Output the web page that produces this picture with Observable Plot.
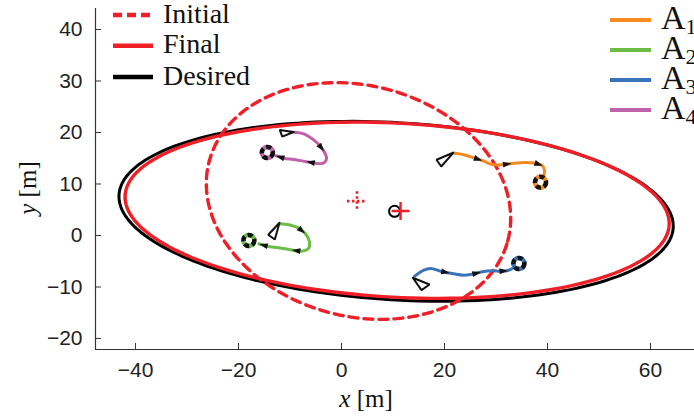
<!DOCTYPE html>
<html><head><meta charset="utf-8">
<script src="https://cdn.jsdelivr.net/npm/d3@7"></script>
<script src="https://cdn.jsdelivr.net/npm/@observablehq/plot@0.6"></script>
<style>
body{margin:0;background:#fff;}
#chart{position:relative;width:694px;height:416px;overflow:hidden;}
</style></head><body><div id="chart"></div>
<script>
// ---------- data ----------
const xTicks = [-40, -20, 0, 20, 40, 60];
const yTicks = [-20, -10, 0, 10, 20, 30, 40];
const xDomain = [-47.77, 68.54];
const yDomain = [-22.14, 44.08];

// formations: ellipse parameters (center, semi-axes, tilt in degrees)
const formationNames = ["Desired", "Final", "Initial"];
const formationCx = [10.6, 10.8, 3.3];
const formationCy = [4.7, 4.9, 6.7];
const formationA = [53.9, 52.9, 30];
const formationB = [17.2, 16.9, 22.4];
const formationTilt = [-3.4, -3.1, -15];

// formation centres
const centerInitial = [3.0, 6.67];
const centerFinal = [11.46, 4.76];
const centerDesired = [10.3, 4.7];

// agents
const agentNames = ["A1", "A2", "A3", "A4"];
const agentColors = ["#F58A1F", "#6CBD45", "#3A73B9", "#C062AA"];

const a1X = [21.69, 23.75, 25.69, 27.63, 29.26, 31.20, 33.46, 35.73, 37.67, 38.97, 39.42, 39.28];
const a1Y = [16.0, 15.67, 15.09, 14.43, 13.79, 13.73, 14.04, 14.17, 14.04, 13.59, 12.62, 11.65];
const a1Loop = [38.64, 10.35];
const a1TriX = [21.69, 18.45, 19.36, 21.69];
const a1TriY = [16.06, 14.70, 13.40, 16.06];
const a1Arrows = [2, 5, 8];

const a2X = [-12.04, -10.23, -8.29, -6.99, -6.21, -6.47, -7.96, -9.90, -12.17, -14.43, -16.06];
const a2Y = [2.27, 2.08, 1.42, 0.33, -1.30, -2.58, -3.05, -2.78, -2.39, -2.08, -1.61];
const a2Loop = [-18.0, -0.97];
const a2TriX = [-12.04, -14.23, -12.95, -12.04];
const a2TriY = [2.47, 0.14, -0.78, 2.47];
const a2Arrows = [2, 6, 9];

const a3X = [14.2, 15.98, 17.28, 19.22, 21.50, 23.75, 25.38, 27.32, 29.26, 30.87, 32.17, 33.15];
const a3Y = [-7.9, -6.74, -6.41, -6.93, -7.38, -7.71, -7.51, -7.05, -6.85, -6.93, -6.85, -6.41];
const a3Loop = [34.43, -5.44];
const a3TriX = [13.84, 15.53, 17.09, 13.84];
const a3TriY = [-8.21, -10.62, -9.51, -8.21];
const a3Arrows = [3, 6, 9];

const a4X = [-9.26, -7.32, -5.69, -4.41, -3.30, -2.91, -3.55, -5.05, -7.32, -9.26, -11.2, -12.8];
const a4Y = [20.06, 19.75, 18.78, 17.67, 16.17, 14.89, 14.04, 14.04, 14.43, 14.76, 15.0, 15.5];
const a4Loop = [-14.4, 16.1];
const a4TriX = [-9.3, -12.0, -11.5, -9.3];
const a4TriY = [20.1, 20.5, 19.2, 20.1];
const a4Arrows = [3, 7, 10];

// ---------- build tables ----------
const ellipse = [];
formationNames.forEach((name, k) => {
  const th = formationTilt[k] * Math.PI / 180;
  for (let deg = 0; deg <= 360; deg += 2) {
    const t = deg * Math.PI / 180;
    const u = formationA[k] * Math.cos(t), v = formationB[k] * Math.sin(t);
    ellipse.push({name, x: formationCx[k] + u * Math.cos(th) - v * Math.sin(th),
                  y: formationCy[k] + u * Math.sin(th) + v * Math.cos(th)});
  }
});
const ell = n => ellipse.filter(d => d.name === n);

const agentX = [a1X, a2X, a3X, a4X], agentY = [a1Y, a2Y, a3Y, a4Y];
const agentLoop = [a1Loop, a2Loop, a3Loop, a4Loop];
const agentTriX = [a1TriX, a2TriX, a3TriX, a4TriX], agentTriY = [a1TriY, a2TriY, a3TriY, a4TriY];
const agentArrows = [a1Arrows, a2Arrows, a3Arrows, a4Arrows];

const paths = [], tris = [], loops = [], arrows = [];
agentNames.forEach((name, k) => {
  agentX[k].forEach((x, i) => paths.push({name, x, y: agentY[k][i]}));
  agentTriX[k].forEach((x, i) => tris.push({name, x, y: agentTriY[k][i]}));
  loops.push({name, x: agentLoop[k][0], y: agentLoop[k][1]});
  agentArrows[k].forEach(i => {
    const dx = agentX[k][i + 1] - agentX[k][i], dy = agentY[k][i + 1] - agentY[k][i];
    arrows.push({name, x: agentX[k][i] + dx * 0.35, y: agentY[k][i] + dy * 0.35,
                 rot: Math.atan2(dx, dy) * 180 / Math.PI});
  });
});

const arrowSym = {draw(ctx, size) {
  const r = Math.sqrt(size / Math.PI);
  ctx.moveTo(0, -r * 1.4); ctx.lineTo(r * 0.8, r * 0.9); ctx.lineTo(-r * 0.8, r * 0.9); ctx.closePath();
}};
const plusSym = {draw(ctx, size) {
  const r = Math.sqrt(size / Math.PI);
  ctx.moveTo(-r, 0); ctx.lineTo(r, 0); ctx.moveTo(0, -r); ctx.lineTo(0, r);
}};

const RED = "#EE1F26";

const chart = Plot.plot({
  width: 694, height: 416,
  marginLeft: 95, marginRight: 0, marginTop: 8, marginBottom: 67,
  x: {domain: xDomain, ticks: xTicks},
  y: {domain: yDomain, ticks: yTicks},
  color: {domain: agentNames, range: agentColors},
  style: {fontFamily: "'Liberation Sans', Arial, sans-serif", fontSize: "21px", color: "#222", background: "white", overflow: "visible"},
  marks: [
    Plot.axisX({ticks: xTicks, tickSize: 0, tickPadding: 13, label: null}),
    Plot.axisY({ticks: yTicks, tickSize: 0, tickPadding: 13, label: null}),
    Plot.axisX({ticks: xTicks, tickSize: 6, dy: -6, tickFormat: () => "", label: null, stroke: "#333"}),
    Plot.axisY({ticks: yTicks, tickSize: 6, dx: 6, tickFormat: () => "", label: null, stroke: "#333"}),
    Plot.ruleX([xDomain[0]], {stroke: "#333", strokeWidth: 1.2}),
    Plot.ruleY([yDomain[0]], {stroke: "#333", strokeWidth: 1.2}),
    Plot.line(ell("Desired"), {x: "x", y: "y", stroke: "black", strokeWidth: 3}),
    Plot.line(ell("Final"), {x: "x", y: "y", stroke: RED, strokeWidth: 3.4}),
    Plot.line(ell("Initial"), {x: "x", y: "y", stroke: RED, strokeWidth: 3.4, strokeDasharray: "9,6"}),
    Plot.dot([centerInitial], {x: d => d[0], y: d => d[1], symbol: plusSym, r: 10, stroke: RED, strokeWidth: 2.6, fill: "none", strokeDasharray: "2.5,2.5"}),
    Plot.dot([centerDesired], {x: d => d[0], y: d => d[1], r: 5.5, stroke: "black", strokeWidth: 2, fill: "none"}),
    Plot.dot([centerFinal], {x: d => d[0], y: d => d[1], symbol: plusSym, r: 9, stroke: RED, strokeWidth: 2.4, fill: "none"}),
    Plot.line(paths, {x: "x", y: "y", z: "name", stroke: "name", strokeWidth: 3, curve: "catmull-rom"}),
    Plot.dot(loops, {x: "x", y: "y", r: 5.5, stroke: "name", strokeWidth: 4.5, fill: "none"}),
    Plot.dot(loops, {x: "x", y: "y", r: 5.5, stroke: "#111", strokeWidth: 4.5, fill: "none", strokeDasharray: "5,3"}),
    Plot.dot(arrows, {x: "x", y: "y", symbol: arrowSym, r: 3.7, rotate: "rot", fill: "#111", stroke: "none"}),
    Plot.line(tris, {x: "x", y: "y", z: "name", stroke: "#111", strokeWidth: 2, strokeLinejoin: "miter"})
  ]
});
document.getElementById("chart").appendChild(chart);

// ---------- legends and axis titles ----------
const svg = d3.select(chart);
const serif = "'Liberation Serif', 'Times New Roman', serif";
const leftLegend = [
  {label: "Initial", color: RED, dash: "9,5", y: 15},
  {label: "Final", color: RED, dash: null, y: 45.7},
  {label: "Desired", color: "black", dash: null, y: 77}
];
const lg = svg.append("g").attr("text-anchor", "start");
leftLegend.forEach(d => {
  lg.append("line").attr("x1", 113).attr("x2", 153).attr("y1", d.y).attr("y2", d.y)
    .attr("stroke", d.color).attr("stroke-width", 4.5).attr("stroke-dasharray", d.dash);
  lg.append("text").attr("x", 163).attr("y", d.y + 7.5).attr("font-family", serif)
    .attr("font-size", 28).attr("fill", "#111").attr("text-anchor", "start").text(d.label);
});
const rg = svg.append("g").attr("text-anchor", "start");
agentNames.forEach((name, k) => {
  const y = 20 + k * 30;
  rg.append("line").attr("x1", 610).attr("x2", 651).attr("y1", y).attr("y2", y)
    .attr("stroke", agentColors[k]).attr("stroke-width", 4);
  const t = rg.append("text").attr("x", 661).attr("y", y + 9).attr("font-family", serif)
    .attr("font-size", 34).attr("fill", "#111").attr("text-anchor", "start");
  t.append("tspan").text(name[0]);
  t.append("tspan").attr("font-size", 22).attr("dy", 5).text(name.slice(1));
});
const xl = svg.append("text").attr("x", 366).attr("y", 407).attr("text-anchor", "middle")
  .attr("font-family", serif).attr("font-size", 25).attr("fill", "#111");
xl.append("tspan").attr("font-style", "italic").text("x");
xl.append("tspan").text(" [m]");
const yl = svg.append("text").attr("transform", "translate(36,188) rotate(-90)").attr("text-anchor", "middle")
  .attr("font-family", serif).attr("font-size", 25).attr("fill", "#111");
yl.append("tspan").attr("font-style", "italic").text("y");
yl.append("tspan").text(" [m]");
</script></body></html>
